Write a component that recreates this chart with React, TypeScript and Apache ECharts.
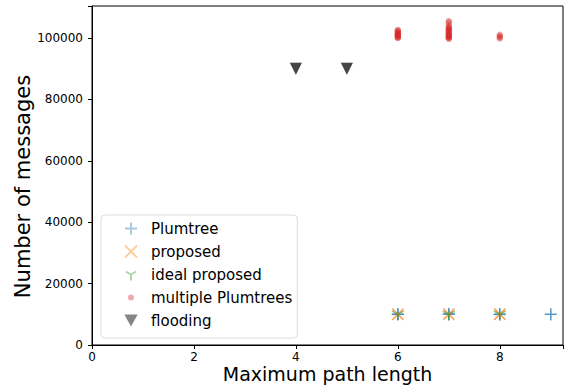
import React, { useEffect, useRef } from "react";
import * as echarts from "echarts";

const plumtree: [number, number][] = [
  [6, 9900], [6, 10000], [6, 10100], [6, 10050],
  [7, 9950], [7, 10100], [7, 10200], [7, 10000],
  [8, 9900], [8, 10000], [8, 10100], [8, 9950],
  [9, 9950], [9, 10000], [9, 10050],
];
const proposed: [number, number][] = [
  [6, 9950], [6, 10050], [6, 10000],
  [7, 10000], [7, 10150], [7, 9900],
  [8, 10000], [8, 9950], [8, 10100],
];
const idealProposed: [number, number][] = [
  [6, 10000], [6, 10100], [7, 10050], [7, 9950], [8, 10000], [8, 10050],
];
const multiplePlumtrees: [number, number][] = [
  [6, 100000], [6, 100300], [6, 100600], [6, 100900], [6, 101200], [6, 101500],
  [6, 101800], [6, 102100], [6, 102400], [6, 102600], [6, 100100], [6, 101000],
  [7, 99700], [7, 100000], [7, 100300], [7, 100600], [7, 100900], [7, 101200],
  [7, 101500], [7, 101800], [7, 102100], [7, 102400], [7, 102700], [7, 103000],
  [7, 103300], [7, 103600], [7, 104200], [7, 105000], [7, 105500], [7, 100200],
  [8, 99800], [8, 100200], [8, 100600], [8, 101000],
];
const flooding: [number, number][] = [
  [4, 90000], [4, 90000], [5, 90000], [5, 90000],
];
const seriesNames = ["Plumtree", "proposed", "ideal proposed", "multiple Plumtrees", "flooding"];

const PLUS = "path://M0,-1L0,1M-1,0L1,0";
const CROSS = "path://M-1,-1L1,1M-1,1L1,-1";
const TRI = "path://M0,0L0,1M0,0L-0.866,-0.5M0,0L0.866,-0.5M0,-1L0,-1";
const TRI_DOWN = "path://M-1,-0.9L1,-0.9L0,0.9Z";
const SMALL_DOT = "path://M-6,-6L-6,-6M6,6L6,6M-3,0A3,3 0 1 0 3,0A3,3 0 1 0 -3,0Z";

export default function App() {
  const ref = useRef<HTMLDivElement>(null);
  useEffect(() => {
    if (!ref.current) return;
    const chart = echarts.init(ref.current, null, { renderer: "svg" });
    const font = "DejaVu Sans";
    chart.setOption({
      animation: false,
      textStyle: { fontFamily: font },
      grid: { left: 92, right: 2, top: 6, bottom: 41, containLabel: false, outerBoundsMode: "none",
        show: true, borderColor: "#000", borderWidth: 1 },
      xAxis: {
        type: "value", min: 0, max: 9.24, interval: 2,
        name: "Maximum path length", nameLocation: "middle", nameGap: 19, nameMoveOverlap: false,
        nameTextStyle: { fontSize: 19, color: "#000", fontFamily: font },
        axisLine: { show: true, lineStyle: { color: "#000", width: 1 } },
        axisTick: { show: true, length: 4, lineStyle: { color: "#000" } },
        axisLabel: { color: "#000", fontSize: 12, margin: 6, fontFamily: font,
          formatter: (v: number) => (Math.abs(v - 9.24) < 0.01 ? "" : String(v)) },
        splitLine: { show: false },
      },
      yAxis: {
        type: "value", min: 0, max: 110400, interval: 20000,
        name: "Number of messages", nameLocation: "middle", nameGap: 59, nameMoveOverlap: false,
        nameTextStyle: { fontSize: 21, color: "#000", fontFamily: font, padding: [0, 22, 0, 0] },
        axisLine: { show: true, lineStyle: { color: "#000", width: 1 } },
        axisTick: { show: true, length: 4, lineStyle: { color: "#000" } },
        axisLabel: { color: "#000", fontSize: 12, margin: 9, fontFamily: font,
          formatter: (v: number) => (v > 110000 ? "" : String(v)) },
        splitLine: { show: false },
      },
      legend: {
        orient: "vertical", left: 101, top: 215,
        padding: [6, 5, 10, 23],
        backgroundColor: "#fff", borderColor: "#ddd", borderWidth: 1, borderRadius: 4,
        itemWidth: 30, itemHeight: 12, itemGap: 8, itemTextGap: 45,
        textStyle: { fontSize: 15, color: "#000", fontFamily: font },
        data: [
          { name: seriesNames[0] },
          { name: seriesNames[1] },
          { name: seriesNames[2] },
          { name: seriesNames[3], icon: SMALL_DOT },
          { name: seriesNames[4], icon: TRI_DOWN },
        ],
      },
      series: [
        { name: seriesNames[0], type: "scatter", data: plumtree, symbol: PLUS, symbolSize: 12,
          itemStyle: { color: "transparent", borderColor: "rgba(31,119,180,0.5)", borderWidth: 1.3 } },
        { name: seriesNames[1], type: "scatter", data: proposed, symbol: CROSS, symbolSize: 11,
          itemStyle: { color: "transparent", borderColor: "rgba(255,127,14,0.5)", borderWidth: 1.3 } },
        { name: seriesNames[2], type: "scatter", data: idealProposed, symbol: TRI, symbolSize: 12,
          itemStyle: { color: "transparent", borderColor: "rgba(44,160,44,0.5)", borderWidth: 1.3 } },
        { name: seriesNames[3], type: "scatter", data: multiplePlumtrees, symbol: "circle", symbolSize: 6.5,
          itemStyle: { color: "rgba(214,39,40,0.5)" } },
        { name: seriesNames[4], type: "scatter", data: flooding, symbol: TRI_DOWN, symbolSize: 12,
          itemStyle: { color: "rgba(0,0,0,0.6)" } },
      ],
    });
    return () => chart.dispose();
  }, []);
  return <div ref={ref} style={{ width: 565, height: 386, position: "absolute", left: 0, top: 0 }} />;
}
